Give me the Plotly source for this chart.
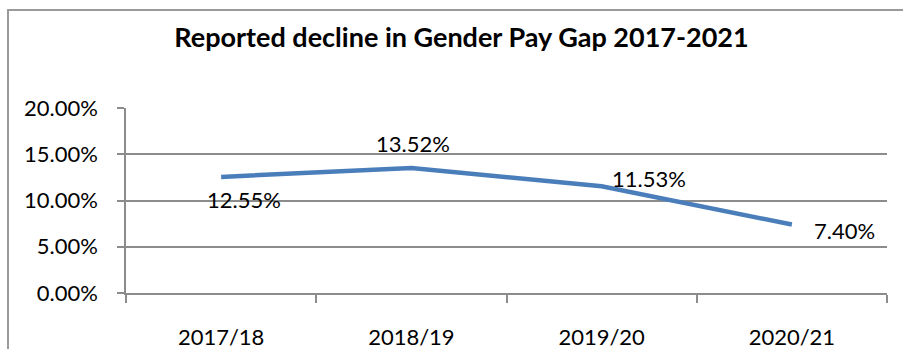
import plotly.graph_objects as go

# Reported gender pay gap by reporting year
years = ["2017/18", "2018/19", "2019/20", "2020/21"]
pay_gap = [0.1255, 0.1352, 0.1153, 0.0740]
y_ticks = [0.0, 0.05, 0.10, 0.15, 0.20]

# label placement (pixel offsets from each point)
label_dx = [23, 2, 47, 53]
label_dy = [-23, 24, 8, -6]

FONT = "Lato"
GRID = "#8c8c8c"

fig = go.Figure()
fig.add_trace(go.Scatter(
    x=years, y=pay_gap, mode="lines",
    line=dict(color="#4a7ebb", width=4.5),
    hoverinfo="skip", showlegend=False,
))

for yr, v, dx, dy in zip(years, pay_gap, label_dx, label_dy):
    fig.add_annotation(
        x=yr, y=v, text=f"{v:.2%}", showarrow=False,
        xanchor="center", yanchor="middle", xshift=dx, yshift=dy,
        font=dict(family=FONT, size=22, color="#000000"),
    )

# outer chart frame
fig.add_shape(
    type="rect", xref="paper", yref="paper",
    x0=(8 - 126) / 761, x1=1.2, y0=-0.6, y1=(293 - 10) / 185,
    line=dict(color="#9a9a9a", width=2), fillcolor="rgba(0,0,0,0)",
    layer="below",
)

fig.update_layout(
    width=903, height=349,
    margin=dict(l=126, r=16, t=108, b=56),
    paper_bgcolor="white", plot_bgcolor="white",
    title=dict(
        text="<b>Reported decline in Gender Pay Gap 2017-2021</b>",
        x=461.5 / 903, xanchor="center", xref="container",
        y=1 - 38 / 349, yanchor="middle", yref="container",
        font=dict(family=FONT, size=27, color="#000000"),
    ),
    font=dict(family=FONT, size=22, color="#000000"),
)

fig.update_xaxes(
    type="category", range=[-0.5, len(years) - 0.5], automargin=False,
    tickson="boundaries", ticks="outside", ticklen=8,
    tickcolor=GRID, tickwidth=1.5, showline=True, linecolor=GRID, linewidth=1.5,
    showgrid=False, ticklabelstandoff=24,
    tickfont=dict(family=FONT, size=22, color="#000000"),
)
fig.update_yaxes(
    range=[0, 0.2], tickvals=y_ticks, tickformat=".2%", automargin=False,
    ticks="outside", ticklen=7, tickcolor=GRID, tickwidth=1.5,
    showline=True, linecolor=GRID, linewidth=1.5,
    showgrid=True, gridcolor=GRID, gridwidth=1.5, zeroline=False,
    ticklabelstandoff=15,
    tickfont=dict(family=FONT, size=22, color="#000000"),
)

fig.write_html("out.html")
